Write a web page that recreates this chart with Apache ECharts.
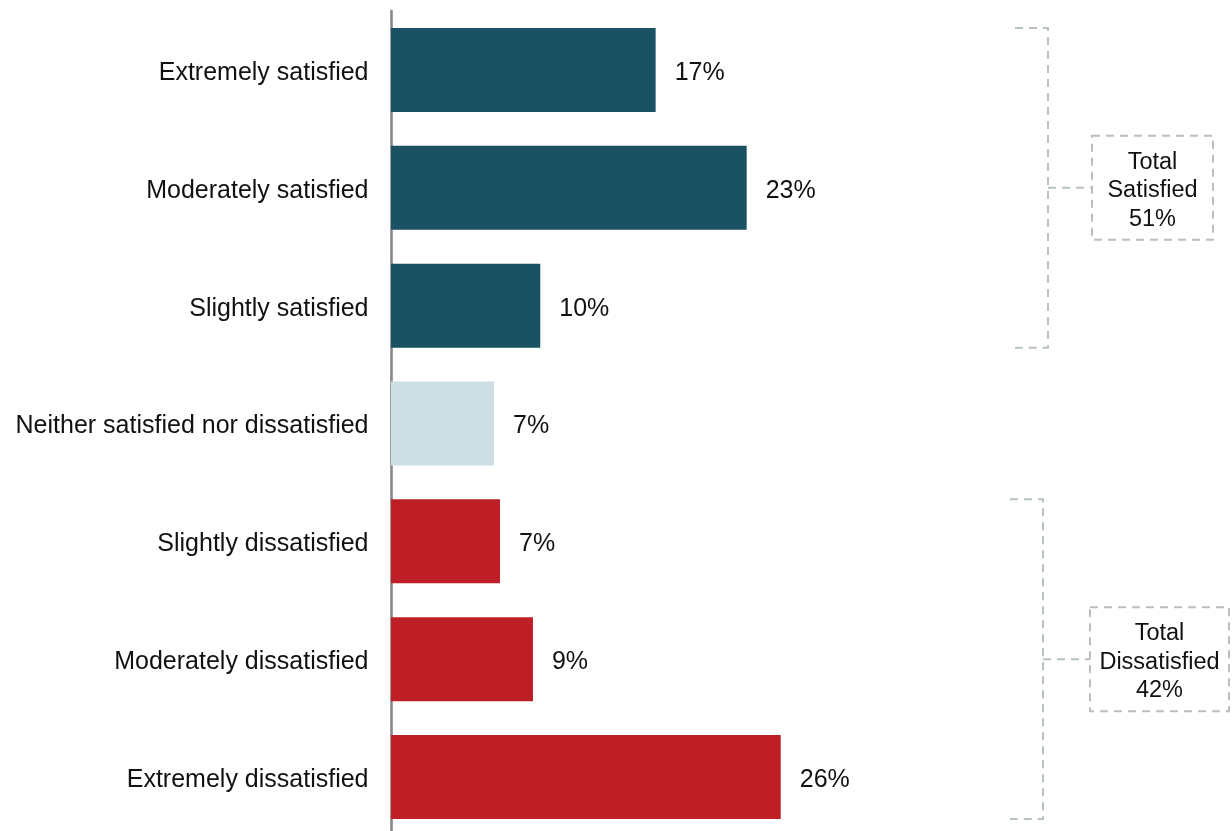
<!DOCTYPE html>
<html>
<head>
<meta charset="utf-8">
<script src="https://cdn.jsdelivr.net/npm/echarts@6/dist/echarts.min.js"></script>
<style>
html,body{margin:0;padding:0;background:#fff;overflow:hidden;width:1232px;height:831px;}
#chart{width:1232px;height:845px;}
</style>
</head>
<body>
<div id="chart"></div>
<script>
var categories = ['Extremely satisfied','Moderately satisfied','Slightly satisfied','Neither satisfied nor dissatisfied','Slightly dissatisfied','Moderately dissatisfied','Extremely dissatisfied'];
var values = [17.41, 23.40, 9.82, 6.78, 7.17, 9.34, 25.64];
var groups = ['sat','sat','sat','neu','dis','dis','dis'];
var totalLabels = {sat: 'Total\nSatisfied', dis: 'Total\nDissatisfied'};

var colorMap = {sat: '#1a5163', neu: '#cddfe5', dis: '#be1f26'};
var FONT = 'Liberation Sans';

var chart = echarts.init(document.getElementById('chart'), null, {renderer: 'canvas'});

var option = {
  animation: false,
  backgroundColor: '#fff',
  textStyle: {fontFamily: FONT},
  grid: {left: 391, top: 11, width: 608, height: 825, containLabel: false},
  xAxis: {type: 'value', min: 0, max: 40, show: false},
  yAxis: {
    type: 'category', data: categories, inverse: true, offset: 1.5,
    axisLine: {show: true, lineStyle: {color: '#888', width: 2.6}},
    axisTick: {show: false},
    axisLabel: {
      color: '#111', fontSize: 25, fontFamily: FONT, margin: 21,
      formatter: function (v) { return '{c|' + v + '}'; },
      rich: {c: {color: '#111', fontSize: 25, fontFamily: FONT, padding: [6, 0, 0, 0]}}
    }
  },
  series: [{
    type: 'bar',
    barWidth: 84,
    data: values.map(function (v, i) { return {value: v, itemStyle: {color: colorMap[groups[i]]}}; }),
    label: {
      show: true, position: 'right', distance: 19, offset: [0, 3],
      color: '#111', fontSize: 25, fontFamily: FONT,
      formatter: function (p) { return Math.round(p.value) + '%'; }
    }
  }]
};
chart.setOption(option);

function groupGraphics(g, xEnd, xStub, boxLeft, boxRight) {
  var idx = [];
  groups.forEach(function (gg, i) { if (gg === g) idx.push(i); });
  var half = 84 / 2;
  var yTop = chart.convertToPixel({yAxisIndex: 0}, categories[idx[0]]) - half;
  var yBot = chart.convertToPixel({yAxisIndex: 0}, categories[idx[idx.length - 1]]) + half;
  var yMid = (yTop + yBot) / 2;
  var total = 0;
  idx.forEach(function (i) { total += values[i]; });
  var bracketStyle = {stroke: '#b7c2c5', lineWidth: 2, lineDash: [8, 6], fill: null};
  var boxH = 104;
  return [
    {type: 'polyline', shape: {points: [[xStub, yTop], [xEnd, yTop], [xEnd, yBot], [xStub, yBot]]}, style: bracketStyle, silent: true},
    {type: 'line', shape: {x1: xEnd, y1: yMid, x2: boxLeft, y2: yMid}, style: bracketStyle, silent: true},
    {type: 'rect', shape: {x: boxLeft, y: yMid - boxH / 2, width: boxRight - boxLeft, height: boxH},
      style: {stroke: '#bdbdbd', lineWidth: 2, lineDash: [8, 6], fill: '#fff'}, silent: true},
    {type: 'text', x: (boxLeft + boxRight) / 2, y: yMid + 3, silent: true,
      style: {text: totalLabels[g] + '\n' + Math.round(total) + '%', fill: '#111', fontSize: 23.5, fontFamily: FONT,
        align: 'center', verticalAlign: 'middle', lineHeight: 28.5}}
  ];
}

var gfx = [].concat(
  groupGraphics('sat', 1048, 1015, 1092, 1213),
  groupGraphics('dis', 1043, 1010, 1090, 1229)
);
chart.setOption({graphic: gfx});
</script>
</body>
</html>
